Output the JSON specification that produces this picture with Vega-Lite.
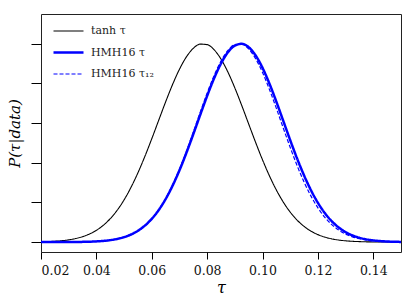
{
"$schema": "https://vega.github.io/schema/vega-lite/v6.json",
"width": 360, "height": 238,
"autosize": {"type": "none"},
"padding": {"left": 41, "top": 14, "right": 14, "bottom": 50},
"config": {"view": {"stroke": "#222", "strokeWidth": 1}, "font": "DejaVu Serif",
  "axis": {"labelFont": "DejaVu Serif", "titleFont": "DejaVu Serif"},
  "legend": {"labelFont": "DejaVu Serif"}},
"data": {"values": [
{"t":0.02,"tanh τ":0.0015,"HMH16 τ":0.00002,"HMH16 τ₁₂":0.00002},
{"t":0.0225,"tanh τ":0.0025,"HMH16 τ":0.00004,"HMH16 τ₁₂":0.00003},
{"t":0.025,"tanh τ":0.0043,"HMH16 τ":0.00009,"HMH16 τ₁₂":0.00007},
{"t":0.0275,"tanh τ":0.0071,"HMH16 τ":0.00017,"HMH16 τ₁₂":0.00014},
{"t":0.03,"tanh τ":0.0113,"HMH16 τ":0.00033,"HMH16 τ₁₂":0.00028},
{"t":0.0325,"tanh τ":0.0177,"HMH16 τ":0.00062,"HMH16 τ₁₂":0.00053},
{"t":0.035,"tanh τ":0.0272,"HMH16 τ":0.0011,"HMH16 τ₁₂":0.001},
{"t":0.0375,"tanh τ":0.0407,"HMH16 τ":0.002,"HMH16 τ₁₂":0.0018},
{"t":0.04,"tanh τ":0.0594,"HMH16 τ":0.0035,"HMH16 τ₁₂":0.0032},
{"t":0.0425,"tanh τ":0.0847,"HMH16 τ":0.006,"HMH16 τ₁₂":0.0055},
{"t":0.045,"tanh τ":0.1179,"HMH16 τ":0.0099,"HMH16 τ₁₂":0.0093},
{"t":0.0475,"tanh τ":0.1603,"HMH16 τ":0.0159,"HMH16 τ₁₂":0.0152},
{"t":0.05,"tanh τ":0.2127,"HMH16 τ":0.025,"HMH16 τ₁₂":0.0241},
{"t":0.0525,"tanh τ":0.2759,"HMH16 τ":0.0382,"HMH16 τ₁₂":0.0372},
{"t":0.055,"tanh τ":0.3492,"HMH16 τ":0.057,"HMH16 τ₁₂":0.056},
{"t":0.0575,"tanh τ":0.4317,"HMH16 τ":0.0828,"HMH16 τ₁₂":0.0819},
{"t":0.06,"tanh τ":0.521,"HMH16 τ":0.1172,"HMH16 τ₁₂":0.1168},
{"t":0.0625,"tanh τ":0.614,"HMH16 τ":0.1615,"HMH16 τ₁₂":0.162},
{"t":0.065,"tanh τ":0.7067,"HMH16 τ":0.2169,"HMH16 τ₁₂":0.2187},
{"t":0.0675,"tanh τ":0.7941,"HMH16 τ":0.2839,"HMH16 τ₁₂":0.2875},
{"t":0.07,"tanh τ":0.8714,"HMH16 τ":0.3619,"HMH16 τ₁₂":0.3677},
{"t":0.0725,"tanh τ":0.9337,"HMH16 τ":0.4496,"HMH16 τ₁₂":0.4578},
{"t":0.075,"tanh τ":0.9769,"HMH16 τ":0.5441,"HMH16 τ₁₂":0.5548},
{"t":0.0775,"tanh τ":0.9981,"HMH16 τ":0.6417,"HMH16 τ₁₂":0.6543},
{"t":0.08,"tanh τ":0.9957,"HMH16 τ":0.7374,"HMH16 τ₁₂":0.7511},
{"t":0.0825,"tanh τ":0.97,"HMH16 τ":0.8255,"HMH16 τ₁₂":0.8392},
{"t":0.085,"tanh τ":0.9227,"HMH16 τ":0.9004,"HMH16 τ₁₂":0.9126},
{"t":0.0875,"tanh τ":0.857,"HMH16 τ":0.9569,"HMH16 τ₁₂":0.966},
{"t":0.09,"tanh τ":0.7773,"HMH16 τ":0.9909,"HMH16 τ₁₂":0.9951},
{"t":0.0925,"tanh τ":0.6884,"HMH16 τ":0.9997,"HMH16 τ₁₂":0.9978},
{"t":0.095,"tanh τ":0.5953,"HMH16 τ":0.9827,"HMH16 τ₁₂":0.9738},
{"t":0.0975,"tanh τ":0.5027,"HMH16 τ":0.9411,"HMH16 τ₁₂":0.925},
{"t":0.1,"tanh τ":0.4145,"HMH16 τ":0.8782,"HMH16 τ₁₂":0.8552},
{"t":0.1025,"tanh τ":0.3337,"HMH16 τ":0.7984,"HMH16 τ₁₂":0.7696},
{"t":0.105,"tanh τ":0.2624,"HMH16 τ":0.7073,"HMH16 τ₁₂":0.6741},
{"t":0.1075,"tanh τ":0.2015,"HMH16 τ":0.6105,"HMH16 τ₁₂":0.5747},
{"t":0.11,"tanh τ":0.151,"HMH16 τ":0.5134,"HMH16 τ₁₂":0.4768},
{"t":0.1125,"tanh τ":0.1105,"HMH16 τ":0.4206,"HMH16 τ₁₂":0.3851},
{"t":0.115,"tanh τ":0.079,"HMH16 τ":0.3357,"HMH16 τ₁₂":0.3027},
{"t":0.1175,"tanh τ":0.0551,"HMH16 τ":0.2611,"HMH16 τ₁₂":0.2316},
{"t":0.12,"tanh τ":0.0376,"HMH16 τ":0.1979,"HMH16 τ₁₂":0.1724},
{"t":0.1225,"tanh τ":0.025,"HMH16 τ":0.1461,"HMH16 τ₁₂":0.1249},
{"t":0.125,"tanh τ":0.0162,"HMH16 τ":0.1051,"HMH16 τ₁₂":0.0882},
{"t":0.1275,"tanh τ":0.0103,"HMH16 τ":0.0737,"HMH16 τ₁₂":0.0605},
{"t":0.13,"tanh τ":0.0064,"HMH16 τ":0.0503,"HMH16 τ₁₂":0.0404},
{"t":0.1325,"tanh τ":0.0039,"HMH16 τ":0.0335,"HMH16 τ₁₂":0.0263},
{"t":0.135,"tanh τ":0.0023,"HMH16 τ":0.0217,"HMH16 τ₁₂":0.0167},
{"t":0.1375,"tanh τ":0.0013,"HMH16 τ":0.0137,"HMH16 τ₁₂":0.0103},
{"t":0.14,"tanh τ":0.0007,"HMH16 τ":0.0084,"HMH16 τ₁₂":0.0062},
{"t":0.1425,"tanh τ":0.0004,"HMH16 τ":0.0051,"HMH16 τ₁₂":0.0036},
{"t":0.145,"tanh τ":0.0002,"HMH16 τ":0.003,"HMH16 τ₁₂":0.002},
{"t":0.1475,"tanh τ":0.0001,"HMH16 τ":0.0017,"HMH16 τ₁₂":0.0011},
{"t":0.15,"tanh τ":0.0001,"HMH16 τ":0.0009,"HMH16 τ₁₂":0.0006}
]},
"transform": [{"fold": ["tanh τ", "HMH16 τ", "HMH16 τ₁₂"], "as": ["series", "p"]}],
"mark": {"type": "line", "interpolate": "monotone", "clip": true},
"encoding": {
  "x": {"field": "t", "type": "quantitative",
    "scale": {"domain": [0.02, 0.15], "nice": false, "zero": false},
    "axis": {"values": [0.02, 0.04, 0.06, 0.08, 0.1, 0.12, 0.14], "format": ".2f", "title": "τ",
      "titleFontStyle": "italic", "titleFontWeight": "normal", "titleFontSize": 16, "grid": false,
      "tickSize": 7, "tickColor": "#000", "domain": false, "labelFontSize": 12.5, "labelColor": "#111",
      "labelPadding": 5, "titlePadding": 3, "titleColor": "#000"}},
  "y": {"field": "p", "type": "quantitative",
    "scale": {"domain": [-0.05, 1.15], "nice": false, "zero": false},
    "axis": {"values": [0, 0.2, 0.4, 0.6, 0.8, 1], "labels": false, "grid": false, "tickSize": 10,
      "tickColor": "#000", "domain": false, "title": "P(τ|data)", "titleFontStyle": "italic",
      "titleFontWeight": "normal", "titleFontSize": 15, "titlePadding": 8, "titleColor": "#000"}},
  "color": {"field": "series", "type": "nominal",
    "scale": {"domain": ["tanh τ", "HMH16 τ", "HMH16 τ₁₂"], "range": ["#000000", "#0000ff", "#0000ff"]},
    "legend": {"title": null, "orient": "none", "legendX": 11, "legendY": 1, "symbolType": "stroke",
      "symbolSize": 900, "labelFontSize": 11, "labelColor": "#222", "labelOffset": 6, "rowPadding": -14}},
  "strokeDash": {"field": "series", "type": "nominal",
    "scale": {"domain": ["tanh τ", "HMH16 τ", "HMH16 τ₁₂"], "range": [[1, 0], [1, 0], [4, 2]]},
    "legend": {"title": null, "orient": "none", "legendX": 11, "legendY": 1, "symbolType": "stroke",
      "symbolSize": 900, "labelFontSize": 11, "labelColor": "#222", "labelOffset": 6, "rowPadding": -14}},
  "strokeWidth": {"field": "series", "type": "nominal",
    "scale": {"type": "ordinal", "domain": ["tanh τ", "HMH16 τ", "HMH16 τ₁₂"], "range": [1.1, 2.5, 1.2]},
    "legend": {"title": null, "orient": "none", "legendX": 11, "legendY": 1, "symbolType": "stroke",
      "symbolSize": 900, "labelFontSize": 11, "labelColor": "#222", "labelOffset": 6, "rowPadding": -14}}
}
}
